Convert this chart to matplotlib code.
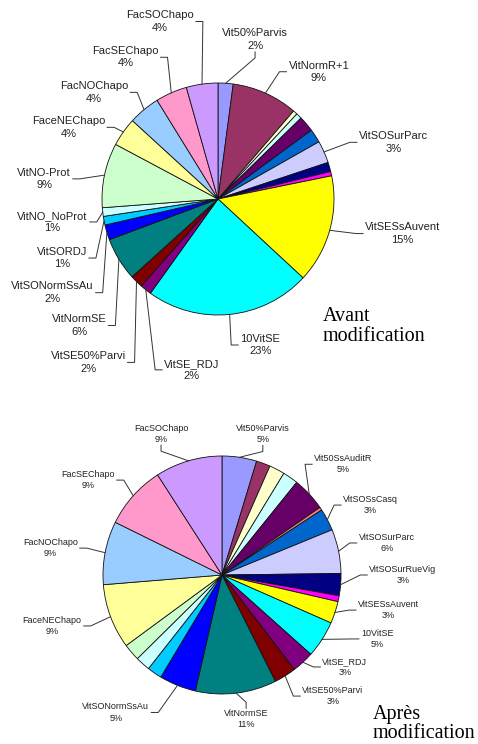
import numpy as np
import matplotlib
matplotlib.use('Agg')
import matplotlib.pyplot as plt

plt.rcParams['font.family'] = ['Liberation Sans', 'DejaVu Sans']

# --- DATA: avant modification (clockwise from 12 o'clock) ---
top_names = ['Vit50%Parvis', 'VitNormR+1', '', '', '', '', 'VitSOSurParc', '', '',
             'VitSESsAuvent', '10VitSE', 'VitSE_RDJ', 'VitSE50%Parvi', 'VitNormSE',
             'VitSONormSsAu', 'VitSORDJ', 'VitNO_NoProt', 'VitNO-Prot',
             'FaceNEChapo', 'FacNOChapo', 'FacSEChapo', 'FacSOChapo']
top_values = [2.1, 9.2, 0.6, 0.8, 2.2, 1.9, 3.1, 1.3, 0.6,
              15.1, 23.0, 1.6, 1.8, 6.0,
              2.1, 1.2, 1.2, 9.0,
              4.0, 4.4, 4.4, 4.4]
top_colors = ['#9999FF', '#993366', '#FFFFCC', '#CCFFFF', '#660066', '#0066CC', '#CCCCFF',
              '#000080', '#FF00FF', '#FFFF00', '#00FFFF', '#800080', '#800000', '#008080',
              '#0000FF', '#00CCFF', '#CCFFFF', '#CCFFCC', '#FFFF99', '#99CCFF', '#FF99CC',
              '#CC99FF']

# --- DATA: apres modification ---
bot_names = ['Vit50%Parvis', '', '', '', 'Vit50SsAuditR', '', 'VitSOSsCasq', 'VitSOSurParc',
             'VitSOSurRueVig', '', 'VitSESsAuvent', '10VitSE', 'VitSE_RDJ', 'VitSE50%Parvi',
             'VitNormSE', 'VitSONormSsAu', '', '', '',
             'FaceNEChapo', 'FacNOChapo', 'FacSEChapo', 'FacSOChapo']
bot_values = [4.7, 1.9, 2.1, 2.1, 4.6, 0.4, 3.0, 6.0,
              3.0, 0.8, 3.0, 5.0, 3.0, 3.0,
              11.0, 5.0, 2.0, 2.0, 2.3,
              8.8, 8.6, 8.6, 9.1]
bot_colors = ['#9999FF', '#993366', '#FFFFCC', '#CCFFFF', '#660066', '#FF8080', '#0066CC',
              '#CCCCFF', '#000080', '#FF00FF', '#FFFF00', '#00FFFF', '#800080', '#800000',
              '#008080', '#0000FF', '#00CCFF', '#CCFFFF', '#CCFFCC', '#FFFF99', '#99CCFF',
              '#FF99CC', '#CC99FF']

# --- LABEL LAYOUT (angle clockwise from top in degrees, distance in radii) ---
top_lab_ang = [13.1, 38.4, None, None, None, None, 72.1, None, None,
               100.6, 163.9, 188.7, 218.5, 227.7, 240.5, 249.3, 262.1, 276.6,
               295.6, 310.7, 326.8, 341.9]
top_lab_rad = [1.41, 1.40, None, None, None, None, 1.59, None, None,
               1.62, 1.31, 1.49, 1.80, 1.62, 1.64, 1.44, 1.44, 1.51,
               1.43, 1.41, 1.46, 1.61]
bot_lab_ang = [16.2, None, None, None, 47.6, None, 64.8, 79.0, 90.0, None,
               101.9, 112.4, 126.8, 137.5, 170.5, 217.7, None, None, None,
               253.3, 278.9, 305.3, 336.6]
bot_lab_rad = [1.23, None, None, None, 1.38, None, 1.38, 1.41, 1.52, None,
               1.43, 1.41, 1.29, 1.38, 1.23, 1.46, None, None, None,
               1.49, 1.46, 1.38, 1.29]


def draw_pie(ax, values, names, colors, lab_ang, lab_rad, fsize):
    wedges, _ = ax.pie(values, colors=colors, startangle=90, counterclock=False,
                       wedgeprops=dict(edgecolor='#111111', linewidth=0.6))
    ax.set_xlim(-1, 1)
    ax.set_ylim(-1, 1)
    total = sum(values)
    items = []
    for w, v, n, a, r in zip(wedges, values, names, lab_ang, lab_rad):
        if not n:
            continue
        pct = round(v / total * 100)
        x = r * np.sin(np.radians(a))
        y = r * np.cos(np.radians(a))
        t = ax.text(x, y, f'{n}\n{pct}%', ha='center', va='center', fontsize=fsize,
                    color='#222222', linespacing=1.3)
        mid = np.radians((w.theta1 + w.theta2) / 2)
        items.append((ax, t, (np.cos(mid), np.sin(mid))))
    return items


def draw_leaders(fig, items):
    renderer = fig.canvas.get_renderer()
    for ax, t, edge in items:
        bb = t.get_window_extent(renderer)
        ex, ey = ax.transData.transform(edge)
        cy = (bb.y0 + bb.y1) / 2
        if bb.x0 - 3 <= ex <= bb.x1 + 3:
            cx = (bb.x0 + bb.x1) / 2
            if ey < bb.y0:
                p0 = (cx, bb.y0 - 1)
                p1 = (cx, bb.y0 - 7)
            else:
                p0 = (cx, bb.y1 + 1)
                p1 = (cx, bb.y1 + 7)
        elif ex > bb.x1:
            p0 = (bb.x1 + 2, cy)
            p1 = (bb.x1 + 9, cy)
        else:
            p0 = (bb.x0 - 2, cy)
            p1 = (bb.x0 - 9, cy)
        pts = ax.transData.inverted().transform([p0, p1, (ex, ey)])
        ax.plot(pts[:, 0], pts[:, 1], color='#333333', lw=0.7, clip_on=False)


fig = plt.figure(figsize=(4.78, 7.44), dpi=100)

# top pie: centre (218, 199) px, radius 116 px
ax1 = fig.add_axes([218 / 478 - 116 / 478, 1 - 199 / 744 - 116 / 744, 232 / 478, 232 / 744])
items = draw_pie(ax1, top_values, top_names, top_colors, top_lab_ang, top_lab_rad, 8)

# bottom pie: centre (222, 575) px, radius 119 px
ax2 = fig.add_axes([222 / 478 - 119 / 478, 1 - 575 / 744 - 119 / 744, 238 / 478, 238 / 744])
items += draw_pie(ax2, bot_values, bot_names, bot_colors, bot_lab_ang, bot_lab_rad, 6.5)

fig.canvas.draw()
draw_leaders(fig, items)

fig.text(323 / 478, 1 - 307 / 744, 'Avant\nmodification', family=['Liberation Serif', 'DejaVu Serif'],
         fontsize=14.5, ha='left', va='top', linespacing=1.05, color='black')
fig.text(373 / 478, 1 - 705 / 744, 'Après\nmodification', family=['Liberation Serif', 'DejaVu Serif'],
         fontsize=14.5, ha='left', va='top', linespacing=1.0, color='black')

fig.savefig('out.png', dpi=100)
